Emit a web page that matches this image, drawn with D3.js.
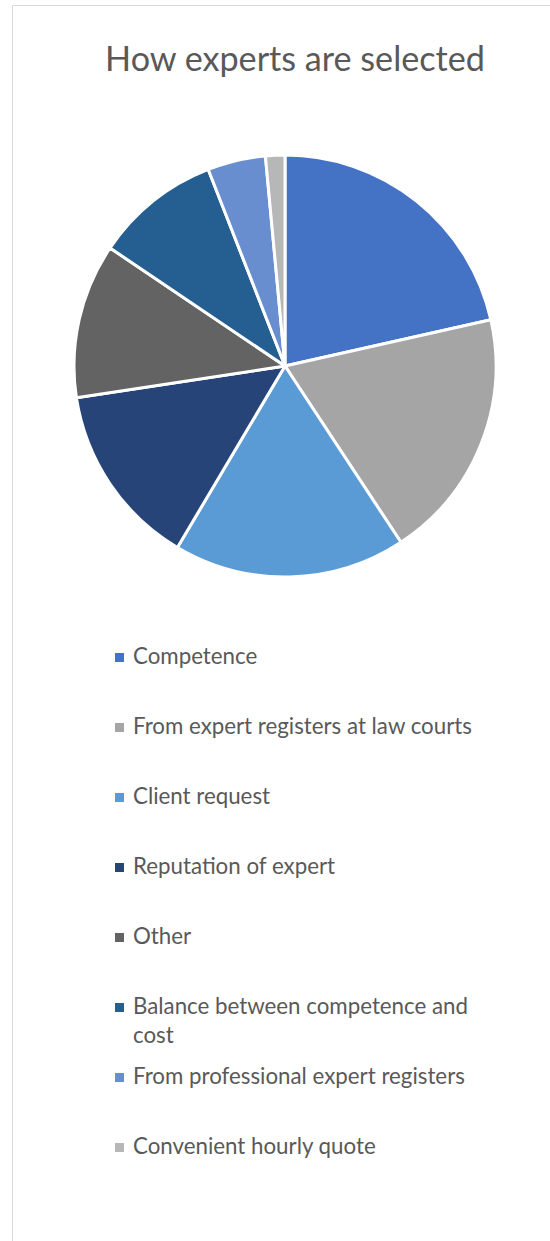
<!DOCTYPE html>
<html>
<head>
<meta charset="utf-8">
<script src="https://cdn.jsdelivr.net/npm/d3@7"></script>
<style>
  body { margin: 0; background: #fff; }
  svg { display: block; }
</style>
</head>
<body>
<div id="chart"></div>
<script>
// Data
const categories = [
  "Competence",
  "From expert registers at law courts",
  "Client request",
  "Reputation of expert",
  "Other",
  "Balance between competence and cost",
  "From professional expert registers",
  "Convenient hourly quote",
];
const values = [29, 26, 24, 19, 16, 13, 6, 2];
const colors = ["#4472C4", "#A5A5A5", "#5B9BD5", "#264478", "#636363", "#255E91", "#698ED0", "#B7B7B7"];
const title = "How experts are selected";

// Dimensions
const dimensions = {
  width: 550,
  height: 1241,
  cx: 285,
  cy: 366,
  radius: 211,
  legendX: 115,
  legendY: 664,
  legendStep: 70,
  legendWrap: 360,
};

const font = "Lato, 'Open Sans', sans-serif";

const svg = d3
  .select("#chart")
  .append("svg")
  .attr("width", dimensions.width)
  .attr("height", dimensions.height);

// frame
svg.append("path")
  .attr("d", `M12.5,${dimensions.height} V5.5 H${dimensions.width}`)
  .attr("fill", "none")
  .attr("stroke", "#d9d9d9")
  .attr("stroke-width", 1);

// fit a text node to a given width
function fitWidth(sel, target) {
  const len = sel.node().getComputedTextLength();
  const fs = parseFloat(sel.attr("font-size"));
  sel.attr("font-size", (fs * target) / len);
  return (fs * target) / len;
}

// Title
const titleText = svg.append("text")
  .attr("x", 295)
  .attr("y", 71)
  .attr("text-anchor", "middle")
  .attr("font-family", font)
  .attr("font-size", 32)
  .attr("fill", "#595959")
  .text(title);
fitWidth(titleText, 380);

// Pie
const pie = d3.pie().sort(null).value((d) => d);
const arc = d3.arc().innerRadius(0).outerRadius(dimensions.radius);

const ctr = svg.append("g")
  .attr("transform", `translate(${dimensions.cx}, ${dimensions.cy})`);

ctr.selectAll("path")
  .data(pie(values))
  .join("path")
  .attr("d", arc)
  .attr("fill", (d, i) => colors[i])
  .attr("stroke", "#fff")
  .attr("stroke-width", 3)
  .attr("stroke-linejoin", "round");

// Legend
const legend = svg.append("g");

// measure font size from the longest single-line label
const probe = legend.append("text")
  .attr("font-family", font)
  .attr("font-size", 20)
  .text(categories[1]);
const legendFs = fitWidth(probe, 339);
probe.remove();

categories.forEach((name, i) => {
  const y = dimensions.legendY + i * dimensions.legendStep;
  const row = legend.append("g");

  row.append("rect")
    .attr("x", dimensions.legendX)
    .attr("y", y - 11)
    .attr("width", 9)
    .attr("height", 9)
    .attr("fill", colors[i]);

  const t = row.append("text")
    .attr("x", dimensions.legendX + 18)
    .attr("y", y)
    .attr("font-family", font)
    .attr("font-size", legendFs)
    .attr("fill", "#595959");

  // simple word wrap
  const words = name.split(" ");
  let line = [];
  let lineNo = 0;
  let tspan = t.append("tspan").attr("x", dimensions.legendX + 18).attr("dy", 0);
  words.forEach((w) => {
    line.push(w);
    tspan.text(line.join(" "));
    if (tspan.node().getComputedTextLength() > dimensions.legendWrap && line.length > 1) {
      line.pop();
      tspan.text(line.join(" "));
      line = [w];
      lineNo++;
      tspan = t.append("tspan").attr("x", dimensions.legendX + 18).attr("dy", 29).text(w);
    }
  });
});
</script>
</body>
</html>
